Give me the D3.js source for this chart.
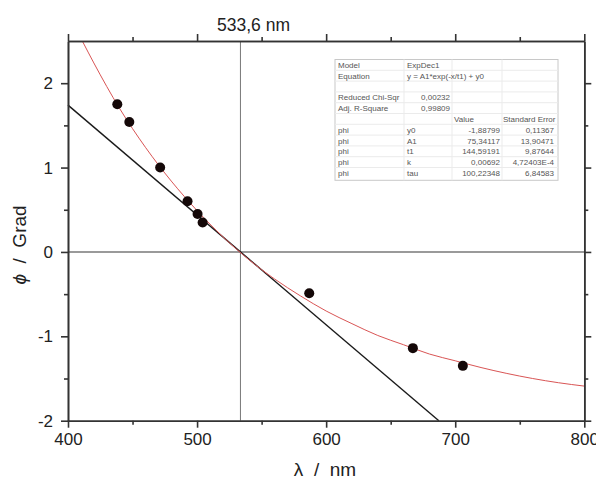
<!DOCTYPE html>
<html>
<head>
<meta charset="utf-8">
<script src="https://cdn.jsdelivr.net/npm/d3@7"></script>
<style>
  body { margin: 0; background: #fff; }
  svg { font-family: "Liberation Sans", Arial, sans-serif; }
</style>
</head>
<body>
<div id="chart"></div>
<script>
// measured points
const wavelength = [438.2, 447.5, 471.4, 492.6, 500.4, 504.3, 586.9, 667.2, 705.9];
const phi = [1.75, 1.54, 1.0, 0.60, 0.45, 0.35, -0.49, -1.14, -1.35];

// red fit curve
const fitX = [411.1, 420, 440, 460, 480, 500, 520, 540, 560, 580, 600, 620, 640, 660, 680, 700, 720, 740, 760, 780, 800];
const fitY = [2.5, 2.24, 1.70, 1.24, 0.84, 0.49, 0.18, -0.09, -0.32, -0.52, -0.70, -0.85, -0.99, -1.10, -1.21, -1.29, -1.37, -1.44, -1.50, -1.55, -1.59];

// black tangent line
const tangentX = [400, 687.3];
const tangentY = [1.74, -2];

const crossing = 533.6;
const crossingLabel = '533,6 nm';

const xTicks = [400, 500, 600, 700, 800];
const xMinor = [450, 550, 650, 750];
const yTicks = [-2, -1, 0, 1, 2];
const yMinor = [-1.5, -0.5, 0.5, 1.5];

// fit report table
const infoLabels = ['Model', 'Equation', '', 'Reduced Chi-Sqr', 'Adj. R-Square'];
const infoValues = ['ExpDec1', 'y = A1*exp(-x/t1) + y0', '', '0,00232', '0,99809'];
const paramNames = ['y0', 'A1', 't1', 'k', 'tau'];
const paramValues = ['-1,88799', '75,34117', '144,59191', '0,00692', '100,22348'];
const paramErrors = ['0,11367', '13,90471', '9,87644', '4,72403E-4', '6,84583'];

const width = 596, height = 481;
const pLeft = 68, pRight = 584.3, pTop = 41, pBottom = 420.7;

const svg = d3.select('#chart').append('svg')
    .attr('width', width)
    .attr('height', height);

const x = d3.scaleLinear().domain([400, 800]).range([pLeft, pRight]);
const y = d3.scaleLinear().domain([-2, 2.5]).range([pBottom, pTop]);

// reference lines
svg.append('line')
    .attr('x1', pLeft).attr('x2', pRight)
    .attr('y1', y(0)).attr('y2', y(0))
    .attr('stroke', '#9a9a9a').attr('stroke-width', 2);
svg.append('line')
    .attr('x1', x(crossing)).attr('x2', x(crossing))
    .attr('y1', pTop).attr('y2', pBottom)
    .attr('stroke', '#777').attr('stroke-width', 1);

// tangent
const line = d3.line().x(d => x(d[0])).y(d => y(d[1]));
svg.append('path')
    .datum(d3.zip(tangentX, tangentY))
    .attr('d', line)
    .attr('fill', 'none')
    .attr('stroke', '#1a1a1a')
    .attr('stroke-width', 1.4);

// fit curve
svg.append('path')
    .datum(d3.zip(fitX, fitY))
    .attr('d', line.curve(d3.curveMonotoneX))
    .attr('fill', 'none')
    .attr('stroke', '#d95555')
    .attr('stroke-width', 1);

// points
svg.append('g')
    .selectAll('circle')
    .data(d3.zip(wavelength, phi))
    .enter().append('circle')
    .attr('cx', d => x(d[0]))
    .attr('cy', d => y(d[1]))
    .attr('r', 5)
    .attr('fill', '#140808');

// axes
function styleAxis(g) {
    g.selectAll('.domain').attr('stroke', '#333').attr('stroke-width', 1.6);
    g.selectAll('line').attr('stroke', '#333').attr('stroke-width', 1.6);
    g.selectAll('text').attr('fill', '#222').attr('font-size', 17);
}
function addAxis(axisFn, scale, ticks, minor, transform, labels) {
    const g = svg.append('g').attr('transform', transform);
    g.call(axisFn(scale).tickValues(minor).tickSize(4).tickFormat('').tickSizeOuter(0));
    const m = svg.append('g').attr('transform', transform);
    m.call(axisFn(scale).tickValues(ticks).tickSize(7).tickSizeOuter(0)
        .tickPadding(labels ? labels : 3)
        .tickFormat(labels ? d3.format('d') : ''));
    styleAxis(g);
    styleAxis(m);
    return m;
}
addAxis(d3.axisBottom, x, xTicks, xMinor, `translate(0,${pBottom})`, 5.5);
addAxis(d3.axisTop, x, xTicks, xMinor, `translate(0,${pTop})`, 0);
const yAx = addAxis(d3.axisLeft, y, yTicks, yMinor, `translate(${pLeft},0)`, 8);
addAxis(d3.axisRight, y, yTicks, yMinor, `translate(${pRight},0)`, 0);
yAx.selectAll('text').text(d => d3.format('d')(d).replace('−', '-'));

// titles
svg.append('text')
    .attr('x', 217).attr('y', 30.5)
    .attr('font-size', 17.5).attr('fill', '#222')
    .text(crossingLabel);

svg.append('text')
    .attr('x', 325).attr('y', 476)
    .attr('text-anchor', 'middle')
    .attr('font-size', 19).attr('fill', '#222')
    .attr('xml:space', 'preserve')
    .text('λ  /  nm');

const yt = svg.append('text')
    .attr('transform', 'translate(26,245) rotate(-90)')
    .attr('text-anchor', 'middle')
    .attr('font-size', 19).attr('fill', '#222')
    .attr('xml:space', 'preserve');
yt.append('tspan').attr('font-style', 'italic').text('ϕ');
yt.append('tspan').text('  /  Grad');

// table
const cols = [335, 404, 452, 502, 558];
const tTop = 59.5, rowH = 10.8;
const nRows = infoLabels.length + 1 + paramNames.length;
const tbl = svg.append('g')
    .attr('font-size', 8)
    .attr('fill', '#555');

tbl.append('rect')
    .attr('x', cols[0]).attr('y', tTop)
    .attr('width', cols[4] - cols[0])
    .attr('height', nRows * rowH + 2)
    .attr('fill', '#fff')
    .attr('stroke', '#c8c8c8');

tbl.selectAll('line.row')
    .data(d3.range(1, nRows))
    .enter().append('line')
    .attr('x1', cols[0]).attr('x2', cols[4])
    .attr('y1', i => tTop + i * rowH).attr('y2', i => tTop + i * rowH)
    .attr('stroke', '#ebebeb');

tbl.selectAll('line.col')
    .data([cols[1], cols[2], cols[3]])
    .enter().append('line')
    .attr('x1', d => d).attr('x2', d => d)
    .attr('y1', tTop).attr('y2', tTop + nRows * rowH + 2)
    .attr('stroke', '#ebebeb');

const rowY = i => tTop + i * rowH + rowH / 2 + 3;

infoLabels.forEach((lab, i) => {
    tbl.append('text').attr('x', cols[0] + 3).attr('y', rowY(i)).text(lab);
    const v = infoValues[i];
    if (i < 2) {
        tbl.append('text').attr('x', cols[1] + 3).attr('y', rowY(i)).text(v);
    } else if (v) {
        tbl.append('text').attr('x', cols[2] - 2).attr('y', rowY(i))
            .attr('text-anchor', 'end').text(v);
    }
});

const hr = infoLabels.length;
tbl.append('text').attr('x', 464).attr('y', rowY(hr)).attr('text-anchor', 'middle').text('Value');
tbl.append('text').attr('x', cols[3] + 1).attr('y', rowY(hr)).text('Standard Error');

paramNames.forEach((p, j) => {
    const r = hr + 1 + j;
    tbl.append('text').attr('x', cols[0] + 3).attr('y', rowY(r)).text('phi');
    tbl.append('text').attr('x', cols[1] + 3).attr('y', rowY(r)).text(p);
    tbl.append('text').attr('x', cols[3] - 2).attr('y', rowY(r)).attr('text-anchor', 'end').text(paramValues[j]);
    tbl.append('text').attr('x', cols[4] - 4).attr('y', rowY(r)).attr('text-anchor', 'end').text(paramErrors[j]);
});
</script>
</body>
</html>
